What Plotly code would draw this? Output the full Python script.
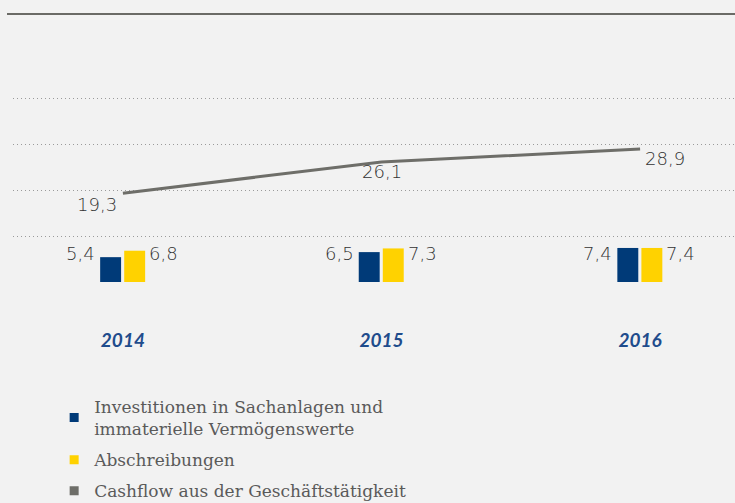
import plotly.graph_objects as go

years = ["2014", "2015", "2016"]
invest = [5.4, 6.5, 7.4]
abschr = [6.8, 7.3, 7.4]
cashflow = [19.3, 26.1, 28.9]

names = ["Investitionen in Sachanlagen und<br>immaterielle Vermögenswerte",
         "Abschreibungen",
         "Cashflow aus der Geschäftstätigkeit"]
c_blue = "#003a78"
c_yellow = "#ffd200"
c_gray = "#6e6e69"
bg = "#f2f2f2"

x = list(range(len(years)))

def fmt(v):
    return f"{v:.1f}".replace(".", ",")

fig = go.Figure()
fig.add_trace(go.Bar(x=x, y=invest, width=0.081, offset=-0.088, marker=dict(color=c_blue, line_width=0),
                     showlegend=False))
fig.add_trace(go.Bar(x=x, y=abschr, width=0.081, offset=0.005, marker=dict(color=c_yellow, line_width=0),
                     showlegend=False))
fig.add_trace(go.Scatter(x=x, y=cashflow, mode="lines", line=dict(color=c_gray, width=3),
                         showlegend=False, hoverinfo="skip"))
for nm, col, grp in zip(names, [c_blue, c_yellow, c_gray], ["a", "b", "c"]):
    fig.add_trace(go.Scatter(x=[None], y=[None], mode="markers", name=nm, legendgroup=grp,
                             marker=dict(symbol="square", size=9, color=col)))

lab_font = dict(family="DejaVu Sans", size=18, color="#333333", weight=300)
for i in x:
    fig.add_annotation(x=i - 0.088, y=6.3, text=fmt(invest[i]), showarrow=False,
                       xanchor="right", yanchor="middle", xshift=-3, font=lab_font)
    fig.add_annotation(x=i + 0.086, y=6.3, text=fmt(abschr[i]), showarrow=False,
                       xanchor="left", yanchor="middle", xshift=2, font=lab_font)

shifts = [(-26, -11), (0, -10), (25, -9)]
for i in x:
    dx, dy = shifts[i]
    fig.add_annotation(x=i, y=cashflow[i], text=fmt(cashflow[i]), showarrow=False,
                       xanchor="center", yanchor="middle", xshift=dx, yshift=dy, font=lab_font)

fig.add_shape(type="line", xref="paper", yref="paper", x0=-6/723, x1=1.01, y0=1, y1=1,
              line=dict(color="#6b6b66", width=2))

fig.update_layout(
    width=735, height=503,
    margin=dict(l=13, r=0, t=14, b=220, autoexpand=False),
    paper_bgcolor=bg, plot_bgcolor=bg,
    barmode="overlay",
    showlegend=True,
    legend=dict(x=0.057, y=-0.394, xanchor="left", yanchor="top", orientation="v",
                font=dict(family="DejaVu Serif", size=17, color="#5a5a5a"),
                bgcolor="rgba(0,0,0,0)", traceorder="grouped", tracegroupgap=6,
                itemwidth=30),
    xaxis=dict(range=[-0.425, 2.367], tickvals=x, ticktext=years, showgrid=False,
               zeroline=False, showline=False, ticks="", ticklabelstandoff=44,
               tickfont=dict(family="Lato", size=19, color="#1f4c8c", weight="bold", style="italic")),
    yaxis=dict(range=[-0.2174, 58.26], tickvals=[0, 10, 20, 30, 40], showticklabels=False,
               showgrid=True, gridcolor="#9a9a9a", gridwidth=1, griddash="1px,3px",
               zeroline=False, showline=False),
    separators=",.",
)

fig.write_html("out.html", config={"displayModeBar": False},
               post_script="document.body.style.margin='0';document.body.style.background='#f2f2f2';")
